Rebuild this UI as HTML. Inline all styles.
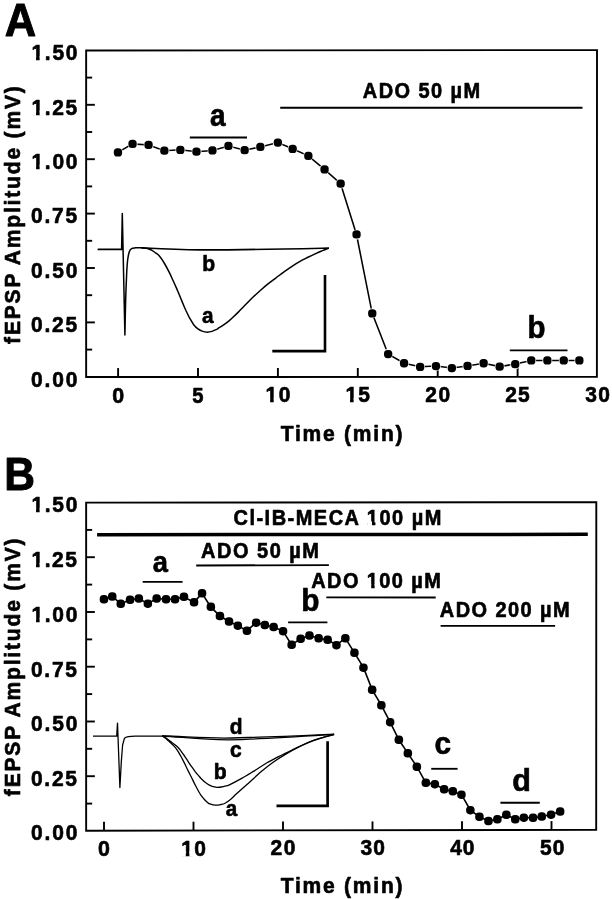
<!DOCTYPE html>
<html><head><meta charset="utf-8"><title>fEPSP</title>
<style>
html,body{margin:0;padding:0;background:#fff;}
body{width:612px;height:899px;overflow:hidden;}
svg{display:block;filter:blur(0.45px);}
text{font-family:"Liberation Sans",sans-serif;font-weight:bold;fill:#000;stroke:#000;stroke-linejoin:round;}
</style></head><body>
<svg width="612" height="899" viewBox="0 0 612 899">
<rect width="612" height="899" fill="#fff"/>

<g fill="none" stroke="#000" stroke-width="1.9">
<polygon points="86.15,50.5 597.0,50.1 596.9,376.8 86.15,377.0"/>
<line x1="86.15" y1="349.6" x2="92.15" y2="349.6"/>
<line x1="86.15" y1="322.4" x2="94.85000000000001" y2="322.4"/>
<line x1="86.15" y1="295.2" x2="92.15" y2="295.2"/>
<line x1="86.15" y1="268.0" x2="94.85000000000001" y2="268.0"/>
<line x1="86.15" y1="240.8" x2="92.15" y2="240.8"/>
<line x1="86.15" y1="213.6" x2="94.85000000000001" y2="213.6"/>
<line x1="86.15" y1="186.4" x2="92.15" y2="186.4"/>
<line x1="86.15" y1="159.2" x2="94.85000000000001" y2="159.2"/>
<line x1="86.15" y1="132.0" x2="92.15" y2="132.0"/>
<line x1="86.15" y1="104.8" x2="94.85000000000001" y2="104.8"/>
<line x1="86.15" y1="77.6" x2="92.15" y2="77.6"/>
<line x1="118.1" y1="376.99" x2="118.1" y2="368.09"/>
<line x1="198.0" y1="376.96" x2="198.0" y2="368.06"/>
<line x1="277.9" y1="376.92" x2="277.9" y2="368.02"/>
<line x1="357.8" y1="376.89" x2="357.8" y2="367.99"/>
<line x1="437.7" y1="376.86" x2="437.7" y2="367.96"/>
<line x1="517.6" y1="376.83" x2="517.6" y2="367.93"/>
</g>
<polyline fill="none" stroke="#000" stroke-width="1.55" points="117.9,152.4 132.6,143.9 148.6,145.0 164.4,150.7 180.4,149.8 196.5,151.7 212.5,150.4 228.5,146.0 244.7,150.2 260.4,146.9 277.8,142.6 292.6,148.8 308.3,155.9 324.5,169.3 340.6,183.7 356.5,234.5 372.2,313.3 388.1,354.0 404.0,363.2 420.1,366.8 435.9,366.0 451.8,368.0 467.5,365.9 483.6,363.2 499.6,366.6 515.3,364.1 531.3,360.4 547.4,360.4 563.7,360.4 579.4,360.4"/>
<g fill="#fff"><rect x="113.1" y="147.6" width="9.7" height="9.7" rx="4.2"/><rect x="127.8" y="139.1" width="9.7" height="9.7" rx="4.2"/><rect x="143.8" y="140.2" width="9.7" height="9.7" rx="4.2"/><rect x="159.6" y="145.8" width="9.7" height="9.7" rx="4.2"/><rect x="175.6" y="145.0" width="9.7" height="9.7" rx="4.2"/><rect x="191.7" y="146.8" width="9.7" height="9.7" rx="4.2"/><rect x="207.7" y="145.6" width="9.7" height="9.7" rx="4.2"/><rect x="223.7" y="141.2" width="9.7" height="9.7" rx="4.2"/><rect x="239.8" y="145.3" width="9.7" height="9.7" rx="4.2"/><rect x="255.5" y="142.1" width="9.7" height="9.7" rx="4.2"/><rect x="272.9" y="137.8" width="9.7" height="9.7" rx="4.2"/><rect x="287.8" y="144.0" width="9.7" height="9.7" rx="4.2"/><rect x="303.4" y="151.1" width="9.7" height="9.7" rx="4.2"/><rect x="319.6" y="164.5" width="9.7" height="9.7" rx="4.2"/><rect x="335.8" y="178.8" width="9.7" height="9.7" rx="4.2"/><rect x="351.6" y="229.7" width="9.7" height="9.7" rx="4.2"/><rect x="367.3" y="308.4" width="9.7" height="9.7" rx="4.2"/><rect x="383.2" y="349.1" width="9.7" height="9.7" rx="4.2"/><rect x="399.1" y="358.3" width="9.7" height="9.7" rx="4.2"/><rect x="415.2" y="361.9" width="9.7" height="9.7" rx="4.2"/><rect x="431.0" y="361.1" width="9.7" height="9.7" rx="4.2"/><rect x="446.9" y="363.1" width="9.7" height="9.7" rx="4.2"/><rect x="462.6" y="361.0" width="9.7" height="9.7" rx="4.2"/><rect x="478.8" y="358.3" width="9.7" height="9.7" rx="4.2"/><rect x="494.8" y="361.8" width="9.7" height="9.7" rx="4.2"/><rect x="510.4" y="359.2" width="9.7" height="9.7" rx="4.2"/><rect x="526.4" y="355.5" width="9.7" height="9.7" rx="4.2"/><rect x="542.5" y="355.5" width="9.7" height="9.7" rx="4.2"/><rect x="558.9" y="355.5" width="9.7" height="9.7" rx="4.2"/><rect x="574.5" y="355.5" width="9.7" height="9.7" rx="4.2"/></g>
<g fill="#000"><rect x="113.8" y="148.2" width="8.3" height="8.3" rx="3.6"/><rect x="128.4" y="139.8" width="8.3" height="8.3" rx="3.6"/><rect x="144.4" y="140.8" width="8.3" height="8.3" rx="3.6"/><rect x="160.2" y="146.5" width="8.3" height="8.3" rx="3.6"/><rect x="176.2" y="145.7" width="8.3" height="8.3" rx="3.6"/><rect x="192.3" y="147.5" width="8.3" height="8.3" rx="3.6"/><rect x="208.3" y="146.2" width="8.3" height="8.3" rx="3.6"/><rect x="224.3" y="141.8" width="8.3" height="8.3" rx="3.6"/><rect x="240.5" y="146.0" width="8.3" height="8.3" rx="3.6"/><rect x="256.2" y="142.8" width="8.3" height="8.3" rx="3.6"/><rect x="273.7" y="138.4" width="8.3" height="8.3" rx="3.6"/><rect x="288.5" y="144.7" width="8.3" height="8.3" rx="3.6"/><rect x="304.2" y="151.8" width="8.3" height="8.3" rx="3.6"/><rect x="320.4" y="165.2" width="8.3" height="8.3" rx="3.6"/><rect x="336.5" y="179.5" width="8.3" height="8.3" rx="3.6"/><rect x="352.4" y="230.3" width="8.3" height="8.3" rx="3.6"/><rect x="368.1" y="309.2" width="8.3" height="8.3" rx="3.6"/><rect x="384.0" y="349.9" width="8.3" height="8.3" rx="3.6"/><rect x="399.9" y="359.1" width="8.3" height="8.3" rx="3.6"/><rect x="416.0" y="362.7" width="8.3" height="8.3" rx="3.6"/><rect x="431.8" y="361.9" width="8.3" height="8.3" rx="3.6"/><rect x="447.7" y="363.9" width="8.3" height="8.3" rx="3.6"/><rect x="463.4" y="361.8" width="8.3" height="8.3" rx="3.6"/><rect x="479.5" y="359.1" width="8.3" height="8.3" rx="3.6"/><rect x="495.5" y="362.5" width="8.3" height="8.3" rx="3.6"/><rect x="511.1" y="360.0" width="8.3" height="8.3" rx="3.6"/><rect x="527.1" y="356.2" width="8.3" height="8.3" rx="3.6"/><rect x="543.2" y="356.2" width="8.3" height="8.3" rx="3.6"/><rect x="559.6" y="356.2" width="8.3" height="8.3" rx="3.6"/><rect x="575.2" y="356.2" width="8.3" height="8.3" rx="3.6"/></g>
<g stroke="#000" stroke-width="1.85" fill="none">
<line x1="189.8" y1="137.5" x2="247" y2="137.5"/>
<line x1="280.2" y1="107.7" x2="582.5" y2="107.7"/>
<line x1="509.8" y1="350.4" x2="567.5" y2="350.4"/>
</g>
<g fill="none" stroke="#000" stroke-width="1.5" stroke-linejoin="round" stroke-linecap="round">
<path d="M98.4,249.4 L121.6,249.4" stroke-width="1.9"/>
<path d="M121.6,249.4 L122.3,213.6 L124.9,335.1 C125.0,329.0 125.4,308.5 125.7,298.5 C126.0,288.5 126.3,281.6 126.6,275.1 C126.9,268.6 127.2,263.4 127.7,259.5 C128.2,255.6 128.7,253.5 129.3,251.7 C130.0,249.9 130.6,249.3 131.6,248.7 C132.6,248.0 133.8,248.0 135.5,247.8 C137.2,247.7 139.6,247.7 141.7,247.8 C143.8,247.9 146.9,248.5 148.0,248.6"/>
<path d="M148.0,248.6 C148.7,248.9 150.8,249.6 152.0,250.3 C153.2,251.0 154.2,251.8 155.5,252.8 C156.8,253.8 158.1,254.5 159.6,256.3 C161.1,258.1 162.9,260.8 164.5,263.5 C166.1,266.2 167.9,269.7 169.4,272.7 C170.9,275.7 172.1,278.5 173.5,281.5 C174.9,284.5 176.2,287.5 177.6,290.7 C179.0,293.9 180.3,297.3 181.7,300.6 C183.1,303.9 184.5,307.4 185.8,310.3 C187.2,313.2 188.5,315.9 189.8,318.3 C191.2,320.8 192.5,323.2 193.9,325.0 C195.3,326.8 196.6,327.9 198.0,328.9 C199.4,329.9 200.5,330.6 202.1,331.1 C203.7,331.7 205.8,332.1 207.5,332.2 C209.2,332.2 210.6,331.8 212.0,331.4 C213.4,331.0 214.8,330.3 216.0,329.7 C217.2,329.1 217.9,328.5 219.2,327.7 C220.5,326.9 222.4,325.7 224.0,324.6 C225.6,323.5 227.3,322.3 229.0,320.9 C230.7,319.5 232.4,317.9 234.0,316.3 C235.6,314.8 237.3,313.1 238.8,311.6 C240.3,310.1 240.9,309.4 243.0,307.3 C245.1,305.2 248.6,301.5 251.3,298.8 C254.1,296.1 256.8,293.6 259.5,291.2 C262.2,288.8 264.9,286.3 267.7,284.1 C270.4,281.9 273.3,279.8 276.0,277.8 C278.7,275.8 281.3,273.8 284.0,271.9 C286.7,270.0 289.3,268.2 292.0,266.4 C294.7,264.6 297.6,262.8 300.4,261.2 C303.1,259.6 305.8,258.4 308.5,257.0 C311.2,255.7 314.4,254.2 316.7,253.1 C319.0,252.0 320.6,251.4 322.5,250.6 C324.4,249.8 327.3,248.8 328.3,248.4"/>
<path d="M141.7,247.8 C150,248.2 175,249.6 200,249.9 C240,250 290,248.9 328.3,248.1" stroke-width="1.7"/>
</g>
<g fill="none" stroke="#000" stroke-width="2.6"><path d="M272.3,351.1 L325,351.1 L325,275.1"/></g>
<g fill="none" stroke="#000" stroke-width="1.9">
<polygon points="86.15,502.6 596.3,502.15 596.2,829.85 86.15,830.7"/>
<line x1="86.15" y1="803.6" x2="92.15" y2="803.6"/>
<line x1="86.15" y1="776.2" x2="94.85000000000001" y2="776.2"/>
<line x1="86.15" y1="748.8" x2="92.15" y2="748.8"/>
<line x1="86.15" y1="721.5" x2="94.85000000000001" y2="721.5"/>
<line x1="86.15" y1="694.1" x2="92.15" y2="694.1"/>
<line x1="86.15" y1="666.7" x2="94.85000000000001" y2="666.7"/>
<line x1="86.15" y1="639.4" x2="92.15" y2="639.4"/>
<line x1="86.15" y1="612.0" x2="94.85000000000001" y2="612.0"/>
<line x1="86.15" y1="584.6" x2="92.15" y2="584.6"/>
<line x1="86.15" y1="557.2" x2="94.85000000000001" y2="557.2"/>
<line x1="86.15" y1="529.9" x2="92.15" y2="529.9"/>
<line x1="104.0" y1="830.67" x2="104.0" y2="821.87"/>
<line x1="193.5" y1="830.52" x2="193.5" y2="821.72"/>
<line x1="283.0" y1="830.37" x2="283.0" y2="821.57"/>
<line x1="372.5" y1="830.22" x2="372.5" y2="821.42"/>
<line x1="462.0" y1="830.07" x2="462.0" y2="821.27"/>
<line x1="551.5" y1="829.92" x2="551.5" y2="821.12"/>
</g>
<polyline fill="none" stroke="#000" stroke-width="1.6" points="103.9,599.2 112.3,596.5 120.8,603.9 130.0,599.7 138.8,598.5 147.8,603.6 156.7,598.5 166.0,599.2 175.0,599.2 183.9,596.8 194.0,602.4 202.0,593.4 210.8,606.9 219.9,616.0 229.0,621.5 237.8,625.6 246.9,630.7 256.1,622.6 264.9,625.0 273.7,627.0 283.0,631.1 291.6,644.9 300.7,638.7 309.5,635.5 318.6,638.2 327.7,639.7 336.5,645.1 345.3,638.2 354.5,652.9 363.5,667.6 372.2,689.8 381.3,705.2 390.1,722.1 398.9,739.8 407.9,753.4 416.9,766.7 425.8,782.8 434.9,784.1 444.1,789.4 452.8,791.4 461.5,794.6 470.4,810.1 479.5,816.9 488.5,821.0 497.4,819.4 506.3,814.7 515.2,819.2 523.9,817.6 533.0,817.8 541.8,816.5 551.0,814.6 560.1,811.5"/>
<g fill="#000"><rect x="99.7" y="595.0" width="8.5" height="8.5" rx="3.8"/><rect x="108.0" y="592.2" width="8.5" height="8.5" rx="3.8"/><rect x="116.5" y="599.6" width="8.5" height="8.5" rx="3.8"/><rect x="125.8" y="595.5" width="8.5" height="8.5" rx="3.8"/><rect x="134.6" y="594.2" width="8.5" height="8.5" rx="3.8"/><rect x="143.6" y="599.4" width="8.5" height="8.5" rx="3.8"/><rect x="152.4" y="594.2" width="8.5" height="8.5" rx="3.8"/><rect x="161.8" y="595.0" width="8.5" height="8.5" rx="3.8"/><rect x="170.8" y="595.0" width="8.5" height="8.5" rx="3.8"/><rect x="179.7" y="592.5" width="8.5" height="8.5" rx="3.8"/><rect x="189.8" y="598.1" width="8.5" height="8.5" rx="3.8"/><rect x="197.8" y="589.1" width="8.5" height="8.5" rx="3.8"/><rect x="206.6" y="602.6" width="8.5" height="8.5" rx="3.8"/><rect x="215.7" y="611.8" width="8.5" height="8.5" rx="3.8"/><rect x="224.8" y="617.2" width="8.5" height="8.5" rx="3.8"/><rect x="233.6" y="621.4" width="8.5" height="8.5" rx="3.8"/><rect x="242.7" y="626.5" width="8.5" height="8.5" rx="3.8"/><rect x="251.9" y="618.4" width="8.5" height="8.5" rx="3.8"/><rect x="260.6" y="620.8" width="8.5" height="8.5" rx="3.8"/><rect x="269.4" y="622.8" width="8.5" height="8.5" rx="3.8"/><rect x="278.8" y="626.9" width="8.5" height="8.5" rx="3.8"/><rect x="287.4" y="640.6" width="8.5" height="8.5" rx="3.8"/><rect x="296.4" y="634.5" width="8.5" height="8.5" rx="3.8"/><rect x="305.2" y="631.2" width="8.5" height="8.5" rx="3.8"/><rect x="314.4" y="634.0" width="8.5" height="8.5" rx="3.8"/><rect x="323.4" y="635.5" width="8.5" height="8.5" rx="3.8"/><rect x="332.2" y="640.9" width="8.5" height="8.5" rx="3.8"/><rect x="341.1" y="634.0" width="8.5" height="8.5" rx="3.8"/><rect x="350.2" y="648.6" width="8.5" height="8.5" rx="3.8"/><rect x="359.2" y="663.4" width="8.5" height="8.5" rx="3.8"/><rect x="367.9" y="685.5" width="8.5" height="8.5" rx="3.8"/><rect x="377.1" y="701.0" width="8.5" height="8.5" rx="3.8"/><rect x="385.9" y="717.9" width="8.5" height="8.5" rx="3.8"/><rect x="394.6" y="735.5" width="8.5" height="8.5" rx="3.8"/><rect x="403.6" y="749.1" width="8.5" height="8.5" rx="3.8"/><rect x="412.6" y="762.5" width="8.5" height="8.5" rx="3.8"/><rect x="421.6" y="778.5" width="8.5" height="8.5" rx="3.8"/><rect x="430.6" y="779.9" width="8.5" height="8.5" rx="3.8"/><rect x="439.9" y="785.1" width="8.5" height="8.5" rx="3.8"/><rect x="448.6" y="787.1" width="8.5" height="8.5" rx="3.8"/><rect x="457.2" y="790.4" width="8.5" height="8.5" rx="3.8"/><rect x="466.1" y="805.9" width="8.5" height="8.5" rx="3.8"/><rect x="475.2" y="812.6" width="8.5" height="8.5" rx="3.8"/><rect x="484.2" y="816.8" width="8.5" height="8.5" rx="3.8"/><rect x="493.1" y="815.1" width="8.5" height="8.5" rx="3.8"/><rect x="502.1" y="810.5" width="8.5" height="8.5" rx="3.8"/><rect x="511.0" y="815.0" width="8.5" height="8.5" rx="3.8"/><rect x="519.6" y="813.4" width="8.5" height="8.5" rx="3.8"/><rect x="528.8" y="813.5" width="8.5" height="8.5" rx="3.8"/><rect x="537.5" y="812.2" width="8.5" height="8.5" rx="3.8"/><rect x="546.8" y="810.4" width="8.5" height="8.5" rx="3.8"/><rect x="555.9" y="807.2" width="8.5" height="8.5" rx="3.8"/></g>
<line x1="97.1" y1="534.75" x2="587.8" y2="534.35" stroke="#000" stroke-width="3.5"/>
<g stroke="#000" stroke-width="1.85" fill="none">
<line x1="142.7" y1="581.9" x2="182.6" y2="581.9"/>
<line x1="196.2" y1="565.45" x2="328.9" y2="565.1"/>
<line x1="288.1" y1="622.4" x2="327.4" y2="622.4"/>
<line x1="326.3" y1="597.4" x2="435.7" y2="597.5"/>
<line x1="440.6" y1="625.9" x2="555.1" y2="625.9"/>
<line x1="431.2" y1="768.8" x2="457.6" y2="768.8"/>
<line x1="500.4" y1="802.7" x2="539.8" y2="802.7"/>
</g>
<g fill="none" stroke="#000" stroke-width="1.3" stroke-linejoin="round">
<path d="M93,736.1 L116.7,736.1 L117.5,723.1 L119.9,787.5 L121.3,762 L122.6,745 L124.5,738.2 C126.5,736.6 130,736.3 135,736.2 L162.3,736.2"/>
<path d="M161.9,735.9 C162.5,736.2 164.2,737.1 165.3,738.0 C166.4,738.9 167.5,740.0 168.7,741.0 C169.8,742.0 171.0,743.1 172.2,744.2 C173.3,745.4 174.5,746.6 175.6,747.9 C176.7,749.2 177.6,750.7 178.5,752.2 C179.4,753.7 180.4,755.3 181.3,757.0 C182.2,758.7 183.2,760.7 184.2,762.6 C185.1,764.5 186.1,766.6 187.0,768.5 C187.9,770.4 189.0,772.3 189.9,774.2 C190.8,776.1 191.8,778.0 192.7,779.9 C193.6,781.8 194.6,783.8 195.6,785.7 C196.6,787.6 197.6,789.6 198.5,791.3 C199.4,793.0 200.4,794.4 201.3,795.7 C202.2,797.0 203.2,798.2 204.2,799.3 C205.1,800.3 206.1,801.2 207.0,802.0 C207.9,802.8 208.5,803.4 209.9,803.9 C211.3,804.4 213.7,805.1 215.6,805.2 C217.5,805.3 219.7,804.8 221.3,804.5 C222.9,804.2 223.5,804.1 225.0,803.3 C226.5,802.4 228.5,801.0 230.5,799.4 C232.5,797.8 233.7,796.4 236.8,793.6 C239.9,790.8 244.9,786.4 249.0,782.7 C253.1,779.0 257.2,775.1 261.3,771.6 C265.4,768.1 269.4,764.9 273.5,762.0 C277.6,759.1 281.7,756.5 285.8,754.1 C289.9,751.7 293.9,749.5 298.0,747.5 C302.1,745.5 306.2,743.4 310.3,741.8 C314.4,740.2 319.4,738.8 322.5,737.8 C325.6,736.8 327.3,736.4 329.2,735.9 C331.1,735.4 333.3,734.8 334.1,734.6"/>
<path d="M161.9,735.9 C162.6,736.2 164.7,737.1 166.0,738.0 C167.3,738.9 168.6,740.0 169.9,741.0 C171.2,742.0 172.6,743.0 173.9,744.0 C175.2,745.0 176.8,746.2 177.9,747.3 C179.1,748.4 179.9,749.6 180.8,750.8 C181.8,752.0 182.7,753.4 183.6,754.7 C184.5,756.1 185.6,757.5 186.5,758.9 C187.4,760.3 188.4,761.9 189.3,763.3 C190.2,764.7 191.2,766.1 192.2,767.4 C193.1,768.7 194.1,770.0 195.0,771.3 C195.9,772.5 196.9,773.8 197.9,774.9 C198.9,776.0 199.9,777.2 200.8,778.2 C201.8,779.2 202.7,780.1 203.6,781.0 C204.5,781.9 205.5,782.6 206.5,783.3 C207.5,784.0 208.5,784.6 209.4,785.1 C210.3,785.6 211.0,786.0 212.2,786.4 C213.4,786.8 215.3,787.2 216.8,787.3 C218.3,787.4 219.9,787.2 221.3,787.0 C222.7,786.8 223.7,786.6 225.0,786.2 C226.3,785.8 226.6,786.1 229.4,784.8 C232.2,783.5 237.6,780.7 241.7,778.4 C245.8,776.1 249.8,773.6 253.9,771.1 C258.0,768.6 262.1,765.6 266.2,763.2 C270.3,760.8 275.1,758.3 278.4,756.6 C281.7,754.9 282.5,754.8 285.8,753.2 C289.1,751.6 293.9,749.1 298.0,747.1 C302.1,745.1 306.2,743.1 310.3,741.5 C314.4,739.9 319.4,738.5 322.5,737.5 C325.6,736.5 327.3,736.1 329.2,735.6 C331.1,735.1 333.3,734.6 334.1,734.4"/>
<path d="M162.3,736.0 C180,736.8 200,739.6 228,739.8 C262,739.2 300,736.6 334.1,734.4"/>
<path d="M162.3,736.0 C180,736.3 200,737.9 224.5,738.1 C260,737.6 300,735.7 334.1,734.2"/>
</g>
<g fill="none" stroke="#000" stroke-width="2.7"><path d="M276.5,805.9 L327.6,805.9 L327.6,741.2"/></g>
<text transform="translate(30.94,386.60) scale(1.000,1.09)" style="font-size:21.0px;letter-spacing:1.88px;stroke-width:0.6px">0.00</text>
<text transform="translate(30.94,839.95) scale(1.000,1.09)" style="font-size:21.0px;letter-spacing:1.85px;stroke-width:0.6px">0.00</text>
<text transform="translate(30.94,332.20) scale(1.000,1.09)" style="font-size:21.0px;letter-spacing:1.77px;stroke-width:0.6px">0.25</text>
<text transform="translate(30.94,786.00) scale(1.000,1.09)" style="font-size:21.0px;letter-spacing:1.74px;stroke-width:0.6px">0.25</text>
<text transform="translate(30.94,277.80) scale(1.000,1.09)" style="font-size:21.0px;letter-spacing:1.88px;stroke-width:0.6px">0.50</text>
<text transform="translate(30.94,731.26) scale(1.000,1.09)" style="font-size:21.0px;letter-spacing:1.85px;stroke-width:0.6px">0.50</text>
<text transform="translate(30.94,223.40) scale(1.000,1.09)" style="font-size:21.0px;letter-spacing:1.77px;stroke-width:0.6px">0.75</text>
<text transform="translate(30.94,676.52) scale(1.000,1.09)" style="font-size:21.0px;letter-spacing:1.74px;stroke-width:0.6px">0.75</text>
<text transform="translate(31.49,169.00) scale(1.000,1.09)" style="font-size:21.0px;letter-spacing:1.70px;stroke-width:0.6px">1.00</text>
<g transform="translate(31.49,169.00) scale(1.000,1.09)" fill="#fff"><rect x="-0.28" y="-3.84" width="4.83" height="4.94"/><rect x="8.13" y="-3.84" width="4.56" height="4.94"/></g>
<text transform="translate(31.49,621.78) scale(1.000,1.09)" style="font-size:21.0px;letter-spacing:1.66px;stroke-width:0.6px">1.00</text>
<g transform="translate(31.49,621.78) scale(1.000,1.09)" fill="#fff"><rect x="-0.28" y="-3.84" width="4.83" height="4.94"/><rect x="8.13" y="-3.84" width="4.56" height="4.94"/></g>
<text transform="translate(31.49,114.60) scale(1.000,1.09)" style="font-size:21.0px;letter-spacing:1.59px;stroke-width:0.6px">1.25</text>
<g transform="translate(31.49,114.60) scale(1.000,1.09)" fill="#fff"><rect x="-0.28" y="-3.84" width="4.83" height="4.94"/><rect x="8.13" y="-3.84" width="4.56" height="4.94"/></g>
<text transform="translate(31.49,567.04) scale(1.000,1.09)" style="font-size:21.0px;letter-spacing:1.55px;stroke-width:0.6px">1.25</text>
<g transform="translate(31.49,567.04) scale(1.000,1.09)" fill="#fff"><rect x="-0.28" y="-3.84" width="4.83" height="4.94"/><rect x="8.13" y="-3.84" width="4.56" height="4.94"/></g>
<text transform="translate(31.49,60.20) scale(1.000,1.09)" style="font-size:21.0px;letter-spacing:1.70px;stroke-width:0.6px">1.50</text>
<g transform="translate(31.49,60.20) scale(1.000,1.09)" fill="#fff"><rect x="-0.28" y="-3.84" width="4.83" height="4.94"/><rect x="8.13" y="-3.84" width="4.56" height="4.94"/></g>
<text transform="translate(31.49,512.30) scale(1.000,1.09)" style="font-size:21.0px;letter-spacing:1.66px;stroke-width:0.6px">1.50</text>
<g transform="translate(31.49,512.30) scale(1.000,1.09)" fill="#fff"><rect x="-0.28" y="-3.84" width="4.83" height="4.94"/><rect x="8.13" y="-3.84" width="4.56" height="4.94"/></g>
<text transform="translate(112.14,402.59) scale(1.021,1.09)" style="font-size:21.0px;letter-spacing:0.00px;stroke-width:0.6px">0</text>
<text transform="translate(192.37,402.51) scale(0.963,1.09)" style="font-size:21.0px;letter-spacing:0.00px;stroke-width:0.6px">5</text>
<text transform="translate(265.59,402.43) scale(1.000,1.09)" style="font-size:21.0px;letter-spacing:1.41px;stroke-width:0.6px">10</text>
<g transform="translate(265.59,402.43) scale(1.000,1.09)" fill="#fff"><rect x="-0.28" y="-3.84" width="4.83" height="4.94"/><rect x="8.13" y="-3.84" width="4.56" height="4.94"/></g>
<text transform="translate(345.49,402.34) scale(1.000,1.09)" style="font-size:21.0px;letter-spacing:1.08px;stroke-width:0.6px">15</text>
<g transform="translate(345.49,402.34) scale(1.000,1.09)" fill="#fff"><rect x="-0.28" y="-3.84" width="4.83" height="4.94"/><rect x="8.13" y="-3.84" width="4.56" height="4.94"/></g>
<text transform="translate(425.24,402.26) scale(1.000,1.09)" style="font-size:21.0px;letter-spacing:1.55px;stroke-width:0.6px">20</text>
<text transform="translate(505.14,402.18) scale(1.000,1.09)" style="font-size:21.0px;letter-spacing:1.22px;stroke-width:0.6px">25</text>
<text transform="translate(585.37,402.10) scale(1.000,1.09)" style="font-size:21.0px;letter-spacing:1.22px;stroke-width:0.6px">30</text>
<text transform="translate(98.09,855.67) scale(1.021,1.09)" style="font-size:21.0px;letter-spacing:0.00px;stroke-width:0.6px">0</text>
<text transform="translate(181.25,855.52) scale(1.000,1.09)" style="font-size:21.0px;letter-spacing:1.41px;stroke-width:0.6px">10</text>
<g transform="translate(181.25,855.52) scale(1.000,1.09)" fill="#fff"><rect x="-0.28" y="-3.84" width="4.83" height="4.94"/><rect x="8.13" y="-3.84" width="4.56" height="4.94"/></g>
<text transform="translate(270.61,855.37) scale(1.000,1.09)" style="font-size:21.0px;letter-spacing:1.55px;stroke-width:0.6px">20</text>
<text transform="translate(360.45,855.22) scale(1.000,1.09)" style="font-size:21.0px;letter-spacing:1.22px;stroke-width:0.6px">30</text>
<text transform="translate(450.29,855.07) scale(1.000,1.09)" style="font-size:21.0px;letter-spacing:0.89px;stroke-width:0.6px">40</text>
<text transform="translate(539.97,854.92) scale(1.000,1.09)" style="font-size:21.0px;letter-spacing:1.22px;stroke-width:0.6px">50</text>
<text transform="translate(280.70,440.80) scale(1.000,1.07)" style="font-size:21.0px;letter-spacing:1.79px;stroke-width:0.6px">Time (min)</text>
<text transform="translate(280.70,893.30) scale(1.000,1.07)" style="font-size:21.0px;letter-spacing:1.79px;stroke-width:0.6px">Time (min)</text>
<text transform="translate(19.90,343.93) rotate(-90) scale(1.000,1.07)" style="font-size:21.0px;letter-spacing:1.84px;stroke-width:0.6px">fEPSP Amplitude (mV)</text>
<text transform="translate(19.90,796.18) rotate(-90) scale(1.000,1.07)" style="font-size:21.0px;letter-spacing:1.84px;stroke-width:0.6px">fEPSP Amplitude (mV)</text>
<text transform="translate(4.87,36.20) scale(0.989,1.045)" style="font-size:44.0px;letter-spacing:0.00px;stroke-width:0.9px">A</text>
<text transform="translate(4.17,489.60) scale(0.968,1.055)" style="font-size:44.0px;letter-spacing:0.00px;stroke-width:0.9px">B</text>
<text transform="translate(362.79,97.60) scale(1.000,1.085)" style="font-size:20.0px;letter-spacing:1.43px;stroke-width:0.6px">ADO 50 µM</text>
<text transform="translate(233.48,525.40) scale(1.000,1.085)" style="font-size:20.0px;letter-spacing:1.49px;stroke-width:0.6px">Cl-IB-MECA 100 µM</text>
<g transform="translate(233.48,525.40) scale(1.000,1.085)" fill="#fff"><rect x="133.85" y="-3.74" width="4.66" height="4.84"/><rect x="141.95" y="-3.74" width="4.40" height="4.84"/></g>
<text transform="translate(200.99,558.10) scale(1.000,1.085)" style="font-size:20.0px;letter-spacing:1.51px;stroke-width:0.6px">ADO 50 µM</text>
<text transform="translate(311.29,588.30) scale(1.000,1.085)" style="font-size:20.0px;letter-spacing:1.39px;stroke-width:0.6px">ADO 100 µM</text>
<g transform="translate(311.29,588.30) scale(1.000,1.085)" fill="#fff"><rect x="55.23" y="-3.74" width="4.66" height="4.84"/><rect x="63.33" y="-3.74" width="4.40" height="4.84"/></g>
<text transform="translate(439.79,616.90) scale(1.000,1.085)" style="font-size:20.0px;letter-spacing:1.43px;stroke-width:0.6px">ADO 200 µM</text>
<text transform="translate(209.95,126.10) scale(0.950,1.04)" style="font-size:29.5px;letter-spacing:0.00px;stroke-width:0.6px">a</text>
<text transform="translate(527.46,338.40) scale(0.999,1.04)" style="font-size:29.5px;letter-spacing:0.00px;stroke-width:0.6px">b</text>
<text transform="translate(152.65,572.00) scale(0.926,1.0)" style="font-size:29.5px;letter-spacing:0.00px;stroke-width:0.6px">a</text>
<text transform="translate(301.24,610.50) scale(1.012,1.04)" style="font-size:29.5px;letter-spacing:0.00px;stroke-width:0.6px">b</text>
<text transform="translate(434.57,754.00) scale(1.010,1.05)" style="font-size:29.5px;letter-spacing:0.00px;stroke-width:0.6px">c</text>
<text transform="translate(512.35,790.80) scale(1.037,1.04)" style="font-size:29.5px;letter-spacing:0.00px;stroke-width:0.6px">d</text>
<text transform="translate(202.17,270.70) scale(0.984,1.06)" style="font-size:21.5px;letter-spacing:0.00px;stroke-width:0.6px">b</text>
<text transform="translate(201.97,322.80) scale(0.963,1.06)" style="font-size:21.5px;letter-spacing:0.00px;stroke-width:0.6px">a</text>
<text transform="translate(229.84,733.50) scale(0.976,1.06)" style="font-size:21.5px;letter-spacing:0.00px;stroke-width:0.6px">d</text>
<text transform="translate(229.94,757.20) scale(0.978,1.03)" style="font-size:21.5px;letter-spacing:0.00px;stroke-width:0.6px">c</text>
<text transform="translate(213.67,778.80) scale(0.984,1.03)" style="font-size:21.5px;letter-spacing:0.00px;stroke-width:0.6px">b</text>
<text transform="translate(225.67,816.20) scale(0.955,1.03)" style="font-size:21.5px;letter-spacing:0.00px;stroke-width:0.6px">a</text>
</svg></body></html>
